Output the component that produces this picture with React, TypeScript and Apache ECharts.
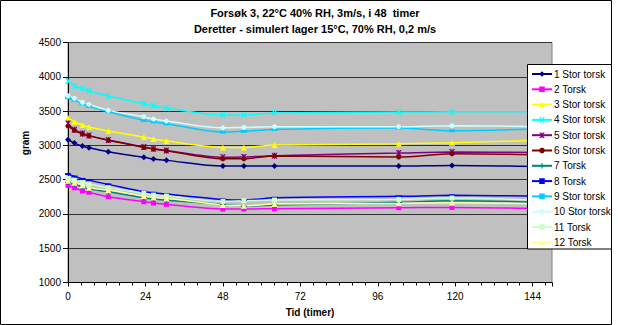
import React, { useEffect, useRef } from "react";
import * as echarts from "echarts";

const hours = [0, 2, 4.5, 6.5, 12.5, 23.5, 26.5, 30.5, 48, 54.5, 64, 102.5, 119, 150];

const seriesNames = [
  "1 Stor torsk", "2 Torsk", "3 Stor torsk", "4 Stor torsk", "5 Stor torsk", "6 Stor torsk",
  "7 Torsk", "8 Torsk", "9 Stor torsk", "10 Stor torsk", "11 Torsk", "12 Torsk",
];

const s1 = [3082, 3033, 2990, 2965, 2907, 2825, 2800, 2781, 2698, 2698, 2698, 2698, 2708, 2690];
const s2 = [2417, 2382, 2334, 2315, 2250, 2178, 2159, 2140, 2071, 2071, 2076, 2090, 2095, 2075];
const s3 = [3402, 3344, 3296, 3267, 3208, 3121, 3092, 3063, 2970, 2970, 3004, 3023, 3038, 3080];
const s4 = [3937, 3864, 3825, 3796, 3719, 3607, 3578, 3544, 3442, 3442, 3471, 3485, 3490, 3490];
const s5 = [3320, 3228, 3172, 3142, 3078, 2975, 2950, 2925, 2825, 2829, 2850, 2887, 2902, 2897];
const s6 = [3281, 3220, 3166, 3138, 3073, 2970, 2946, 2921, 2804, 2804, 2846, 2829, 2877, 2858];
const s7 = [2460, 2430, 2400, 2362, 2325, 2236, 2217, 2198, 2140, 2115, 2130, 2169, 2193, 2169];
const s8 = [2581, 2546, 2511, 2490, 2431, 2323, 2309, 2290, 2210, 2202, 2236, 2256, 2271, 2256];
const s9 = [3694, 3660, 3607, 3568, 3490, 3364, 3344, 3315, 3194, 3204, 3233, 3252, 3213, 3245];
const s10 = [3723, 3685, 3627, 3597, 3510, 3417, 3383, 3354, 3256, 3262, 3271, 3271, 3286, 3271];
const s11 = [2518, 2490, 2456, 2436, 2383, 2300, 2275, 2261, 2183, 2192, 2202, 2212, 2232, 2192];
const s12 = [2483, 2455, 2423, 2382, 2348, 2261, 2242, 2227, 2130, 2119, 2144, 2154, 2163, 2144];

const allValues = [s1, s2, s3, s4, s5, s6, s7, s8, s9, s10, s11, s12];

const xTicks = ["0", "24", "48", "72", "96", "120", "144"];
const yTicks = ["1000", "1500", "2000", "2500", "3000", "3500", "4000", "4500"];

const titleLines = [
  "Forsøk 3, 22°C 40% RH, 3m/s, i 48  timer",
  "Deretter - simulert lager 15°C, 70% RH, 0,2 m/s",
];
const yAxisTitle = "gram";
const xAxisTitle = "Tid (timer)";

const X_PATH = "path://M0,0 L2.5,0 L5,3.2 L7.5,0 L10,0 L6.3,5 L10,10 L7.5,10 L5,6.8 L2.5,10 L0,10 L3.7,5 Z";
const STAR_PATH =
  "path://M0,0 L2.5,0 L4.2,2.2 L4.2,0 L5.8,0 L5.8,2.2 L7.5,0 L10,0 L6.3,5 L10,10 L7.5,10 L5.8,7.8 L5.8,10 L4.2,10 L4.2,7.8 L2.5,10 L0,10 L3.7,5 Z";
const PLUS_PATH = "path://M4,0 L6,0 L6,4 L10,4 L10,6 L6,6 L6,10 L4,10 L4,6 L0,6 L0,4 L4,4 Z";

const styles = [
  { color: "#000080", symbol: "diamond", size: 6 },
  { color: "#FF00FF", symbol: "rect", size: 5 },
  { color: "#FFFF00", symbol: "triangle", size: 6 },
  { color: "#00FFFF", symbol: X_PATH, size: 6 },
  { color: "#800080", symbol: STAR_PATH, size: 6 },
  { color: "#800000", symbol: "circle", size: 5 },
  { color: "#008080", symbol: PLUS_PATH, size: 6 },
  { color: "#0000FF", symbol: "rect", size: [6, 2] },
  { color: "#00CCFF", symbol: "rect", size: [6, 3] },
  { color: "#CCFFFF", symbol: "circle", size: 5 },
  { color: "#CCFFCC", symbol: "rect", size: 5 },
  { color: "#FFFF99", symbol: "triangle", size: 6 },
];

const FONT = "'Liberation Sans', Arial, sans-serif";

export default function App() {
  const ref = useRef<HTMLDivElement>(null);

  useEffect(() => {
    if (!ref.current) return;
    const chart = echarts.init(ref.current, null, { renderer: "svg" });

    const series = allValues.map((vals, i) => ({
      name: seriesNames[i],
      type: "line",
      smooth: 0.3,
      data: vals.map((v, j) => [hours[j], v]),
      symbol: styles[i].symbol,
      symbolSize: styles[i].size,
      showSymbol: true,
      lineStyle: { color: styles[i].color, width: 1.5 },
      itemStyle: { color: styles[i].color, borderWidth: 0 },
      clip: true,
      z: 2,
    }));

    chart.setOption({
      animation: false,
      backgroundColor: "#ffffff",
      grid: { left: 68, top: 42.5, width: 484, height: 240, show: true, backgroundColor: "#C0C0C0", borderColor: "#808080", borderWidth: 1 },
      xAxis: {
        type: "value",
        min: 0,
        max: 150,
        interval: 24,
        name: xAxisTitle,
        nameLocation: "middle",
        nameGap: 25,
        nameTextStyle: { fontFamily: FONT, fontSize: 10, fontWeight: "bold", color: "#000" },
        axisLine: { show: true, onZero: false, lineStyle: { color: "#000", width: 1 } },
        axisTick: { show: true, length: 4, lineStyle: { color: "#000" } },
        minorTick: { show: true, splitNumber: 6, length: 3, lineStyle: { color: "#000" } },
        axisLabel: {
          fontFamily: FONT,
          fontSize: 10,
          color: "#000",
          margin: 9,
          showMaxLabel: false,
          formatter: (v: number) => (xTicks.includes(String(v)) ? String(v) : ""),
        },
        splitLine: { show: false },
      },
      yAxis: {
        type: "value",
        min: 1000,
        max: 4500,
        interval: 500,
        axisLine: { show: true, lineStyle: { color: "#000", width: 1 } },
        axisTick: { show: true, length: 5, lineStyle: { color: "#000" } },
        axisLabel: {
          fontFamily: FONT,
          fontSize: 10,
          color: "#000",
          margin: 7,
          formatter: (v: number) => (yTicks.includes(String(v)) ? String(v) : ""),
        },
        splitLine: { show: true, lineStyle: { color: "#303030", width: 1 } },
      },
      legend: {
        orient: "vertical",
        left: 527,
        top: 64.7,
        padding: [4.3, 4, 3, 4],
        itemWidth: 20,
        itemHeight: 7,
        itemGap: 5.3,
        z: 10,
        textStyle: { fontFamily: FONT, fontSize: 10, color: "#000", padding: [0, 0, 0, -3] },
        data: seriesNames,
      },
      graphic: [
        {
          type: "rect",
          z: 5,
          shape: { x: 527.5, y: 64.5, width: 84, height: 184.5 },
          style: { fill: "#ffffff", stroke: "#000", lineWidth: 1 },
        },
        {
          type: "rect",
          z: 1,
          silent: true,
          shape: { x: 0.5, y: 0.5, width: 611, height: 324 },
          style: { fill: "none", stroke: "#000", lineWidth: 1 },
        },
        {
          type: "text",
          x: 315,
          y: 13,
          style: { text: titleLines[0], fontFamily: FONT, fontSize: 11, fontWeight: "bold", fill: "#000", textAlign: "center", textVerticalAlign: "middle" },
        },
        {
          type: "text",
          x: 315,
          y: 29,
          style: { text: titleLines[1], fontFamily: FONT, fontSize: 11, fontWeight: "bold", fill: "#000", textAlign: "center", textVerticalAlign: "middle" },
        },
        {
          type: "text",
          x: 25,
          y: 143,
          rotation: Math.PI / 2,
          style: { text: yAxisTitle, fontFamily: FONT, fontSize: 10, fontWeight: "bold", fill: "#000", textAlign: "center", textVerticalAlign: "middle" },
        },
      ],
      series,
    });

    return () => chart.dispose();
  }, []);

  return (
    <div
      ref={ref}
      style={{ position: "fixed", left: 0, top: 0, width: 618, height: 325 }}
    />
  );
}
